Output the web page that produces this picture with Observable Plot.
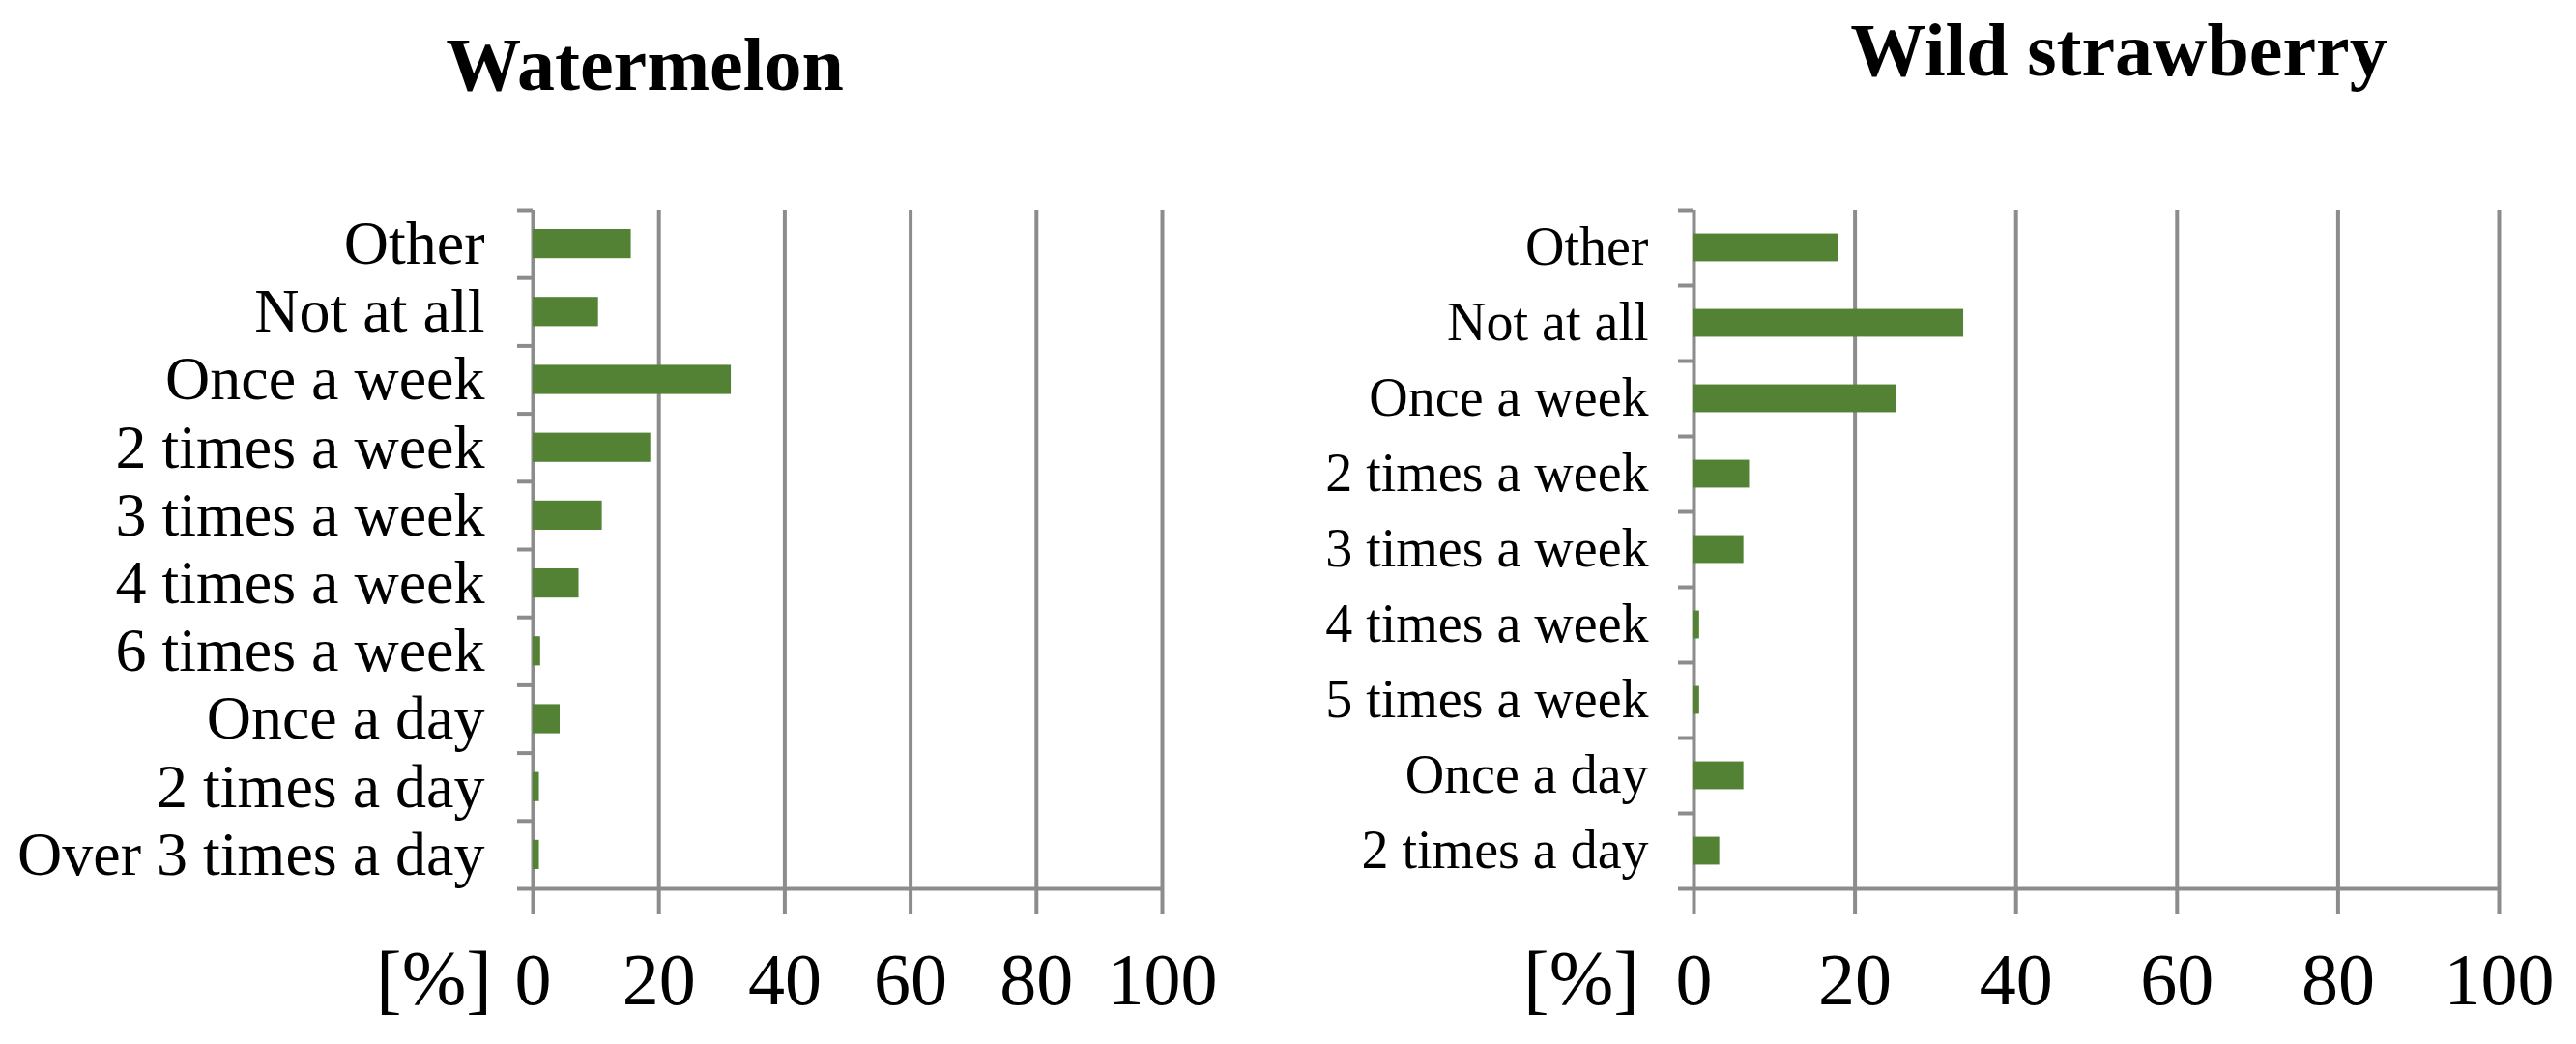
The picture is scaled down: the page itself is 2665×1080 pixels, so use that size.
<!DOCTYPE html>
<html><head><meta charset="utf-8">
<script src="https://cdn.jsdelivr.net/npm/d3@7"></script>
<script src="https://cdn.jsdelivr.net/npm/@observablehq/plot@0.6"></script>
<style>
body{margin:0;background:#fff;}
#wrap{position:relative;width:2665px;height:1080px;overflow:hidden;font-family:"Liberation Serif","Times New Roman",serif;color:#000;}
.t{position:absolute;font-weight:bold;font-size:78px;line-height:1;white-space:nowrap;transform:translateX(-50%);}
.u{position:absolute;font-size:80px;line-height:1;white-space:nowrap;transform:translateX(-100%);}
.p{position:absolute;top:0;}
</style></head><body><div id="wrap"></div>
<script>
const watermelonTitle = "Watermelon";
const watermelonCategories = ["Other","Not at all","Once a week","2 times a week","3 times a week","4 times a week","6 times a week","Once a day","2 times a day","Over 3 times a day"];
const watermelonValues = [15.6, 10.4, 31.5, 18.7, 11.0, 7.3, 1.2, 4.3, 1.0, 1.0];
const strawberryTitle = "Wild strawberry";
const strawberryCategories = ["Other","Not at all","Once a week","2 times a week","3 times a week","4 times a week","5 times a week","Once a day","2 times a day"];
const strawberryValues = [18.0, 33.5, 25.1, 6.9, 6.2, 0.7, 0.7, 6.2, 3.2];
const xTicks = [0, 20, 40, 60, 80, 100];
const unitLabel = "[%]";

const grey = "#8c8c8c";
const green = "#548235";
const font = "'Liberation Serif','Times New Roman',serif";

function panel({cats, vals, width, ml, mr, labelSize, labelPad, barFrac}) {
  const n = cats.length;
  const data = cats.map((c, i) => ({c, v: vals[i], i}));
  return Plot.plot({
    width, height: 1080,
    marginLeft: ml, marginRight: mr, marginTop: 217, marginBottom: 161,
    style: {fontFamily: font, background: "white", color: "black", overflow: "visible"},
    x: {domain: [0, 100]},
    y: {domain: [0, n], reverse: true},
    marks: [
      Plot.ruleX(xTicks, {y1: 0, y2: n, stroke: grey, strokeWidth: 4}),
      Plot.ruleY([n], {x1: 0, x2: 100, stroke: grey, strokeWidth: 4}),
      Plot.rectX(data, {x1: 0, x2: "v", y1: d => d.i + 0.5 - barFrac / 2, y2: d => d.i + 0.5 + barFrac / 2, fill: green}),
      Plot.axisX({ticks: xTicks, tickSize: 27, tickPadding: 39, stroke: grey, strokeWidth: 4, fill: "black", fontSize: 76, label: null}),
      Plot.axisY({ticks: d3.range(n + 1), tickSize: 16, tickFormat: () => "", stroke: grey, strokeWidth: 4, label: null}),
      Plot.axisY({ticks: d3.range(n).map(i => i + 0.5), tickSize: 0, tickPadding: labelPad, tickFormat: t => cats[Math.floor(t)], fontSize: labelSize, fill: "black", label: null})
    ]
  });
}

const wrap = document.getElementById("wrap");
function add(el, left) { const d = document.createElement("div"); d.className = "p"; d.style.left = left + "px"; d.appendChild(el); wrap.appendChild(d); }
function text(cls, s, left, top) { const d = document.createElement("div"); d.className = cls; d.textContent = s; d.style.left = left + "px"; d.style.top = top + "px"; wrap.appendChild(d); }

add(panel({cats: watermelonCategories, vals: watermelonValues, width: 1300, ml: 551, mr: 98, labelSize: 64, labelPad: 50, barFrac: 0.43}), 0);
add(panel({cats: strawberryCategories, vals: strawberryValues, width: 1365, ml: 452, mr: 80, labelSize: 56, labelPad: 47, barFrac: 0.37}), 1300);

text("t", watermelonTitle, 667, 28);
text("t", strawberryTitle, 2192, 13);
text("u", unitLabel, 509, 972);
text("u", unitLabel, 1696, 972);
</script></body></html>
